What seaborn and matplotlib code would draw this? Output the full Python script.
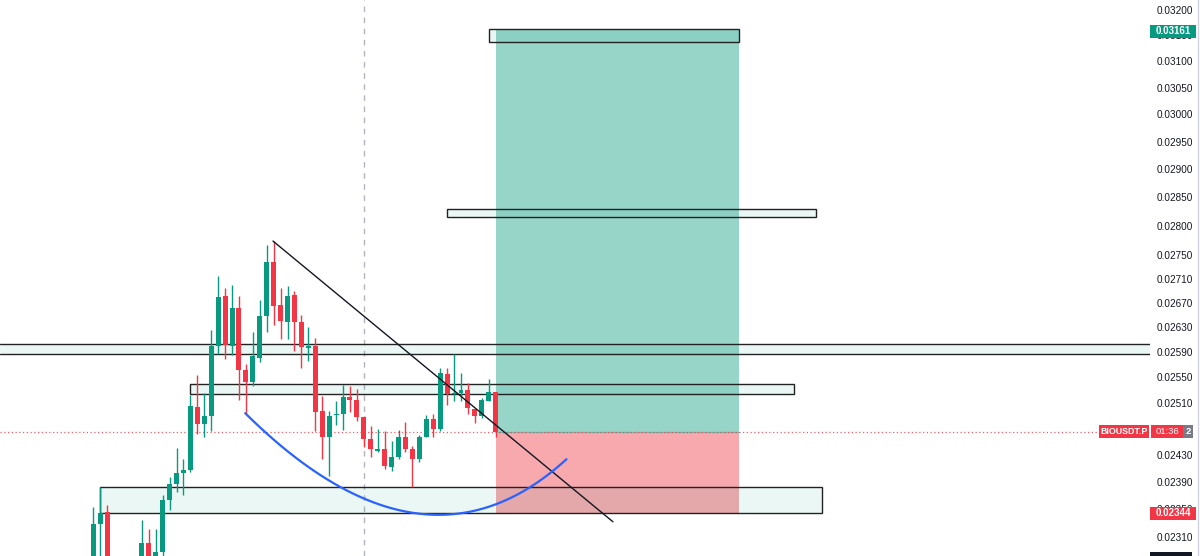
import numpy as np
import pandas as pd
import matplotlib
matplotlib.use("Agg")
import matplotlib.pyplot as plt
import seaborn as sns
from matplotlib.patches import Rectangle
from matplotlib.lines import Line2D
from matplotlib.ticker import NullLocator

# ---------------- data ----------------
opens = [0.02271, 0.02329, 0.02346, 0.02257, 0.02228, 0.02236, 0.02224, 0.02264, 0.02302, 0.02271,
         0.02289, 0.02363, 0.02387, 0.02403, 0.02408, 0.02504, 0.02478, 0.02490, 0.02600, 0.02681,
         0.02600, 0.02662, 0.02562, 0.02542, 0.02581, 0.02649, 0.02738, 0.02666, 0.02639, 0.02683,
         0.02639, 0.02596, 0.02600, 0.02497, 0.02457, 0.02491, 0.02493, 0.02519, 0.02515, 0.02488,
         0.02454, 0.02437, 0.02440, 0.02413, 0.02427, 0.02458, 0.02440, 0.02424, 0.02458, 0.02485,
         0.02469, 0.02555, 0.02524, 0.02525, 0.02530, 0.02500, 0.02489, 0.02513, 0.02527]
highs = [0.02354, 0.02383, 0.02356, 0.02268, 0.02250, 0.02262, 0.02270, 0.02335, 0.02322, 0.02322,
         0.02371, 0.02398, 0.02441, 0.02425, 0.02522, 0.02554, 0.02526, 0.02626, 0.02715, 0.02695,
         0.02699, 0.02681, 0.02571, 0.02623, 0.02675, 0.02767, 0.02774, 0.02695, 0.02698, 0.02690,
         0.02650, 0.02631, 0.02612, 0.02520, 0.02497, 0.02513, 0.02538, 0.02536, 0.02531, 0.02490,
         0.02474, 0.02469, 0.02467, 0.02452, 0.02468, 0.02481, 0.02444, 0.02461, 0.02491, 0.02493,
         0.02564, 0.02564, 0.02587, 0.02556, 0.02541, 0.02502, 0.02517, 0.02547, 0.02527]
lows = [0.02250, 0.02278, 0.02243, 0.02215, 0.02205, 0.02220, 0.02218, 0.02257, 0.02261, 0.02264,
        0.02283, 0.02349, 0.02376, 0.02371, 0.02405, 0.02462, 0.02457, 0.02466, 0.02587, 0.02579,
        0.02585, 0.02514, 0.02493, 0.02537, 0.02574, 0.02623, 0.02634, 0.02611, 0.02611, 0.02591,
        0.02564, 0.02575, 0.02467, 0.02425, 0.02399, 0.02476, 0.02468, 0.02496, 0.02482, 0.02443,
        0.02427, 0.02435, 0.02409, 0.02407, 0.02425, 0.02435, 0.02383, 0.02420, 0.02457, 0.02458,
        0.02467, 0.02507, 0.02513, 0.02513, 0.02493, 0.02479, 0.02487, 0.02513, 0.02458]
closes = [0.02329, 0.02345, 0.02257, 0.02228, 0.02236, 0.02224, 0.02262, 0.02302, 0.02271, 0.02289,
          0.02364, 0.02387, 0.02404, 0.02408, 0.02505, 0.02478, 0.02490, 0.02600, 0.02680, 0.02601,
          0.02662, 0.02561, 0.02543, 0.02583, 0.02649, 0.02738, 0.02665, 0.02641, 0.02682, 0.02639,
          0.02598, 0.02599, 0.02496, 0.02457, 0.02490, 0.02493, 0.02519, 0.02514, 0.02488, 0.02454,
          0.02439, 0.02439, 0.02414, 0.02427, 0.02458, 0.02439, 0.02424, 0.02458, 0.02485, 0.02469,
          0.02556, 0.02523, 0.02525, 0.02530, 0.02502, 0.02489, 0.02514, 0.02527, 0.02465]

y_ticks = [0.03200, 0.03150, 0.03100, 0.03050, 0.03000, 0.02950, 0.02900, 0.02850, 0.02800,
           0.02750, 0.02710, 0.02670, 0.02630, 0.02590, 0.02550, 0.02510, 0.02430,
           0.02390, 0.02350, 0.02310]

# drawings (bar index, price)
entry_price = 0.02465
take_profit = 0.03161
stop_loss = 0.02344
position_span = (58, 93.0)
boxes = [  # (x0, x1, low, high)
    (57.0, 93.0, 0.03138, 0.03163),
    (51.0, 104.1, 0.02815, 0.02830),
    (13.9, 101.0, 0.02524, 0.02539),
    (1.0, 105.0, 0.02345, 0.02383),
]
wide_zone = (0.02587, 0.02603)
trend_x = [25.9, 74.9]
trend_y = [0.02774, 0.02332]
arc_x = [21.9, 47.6, 68.2]          # start, control, end
arc_y = [0.02494, 0.022357, 0.02424]
vline_bar = 39
symbol = "BIOUSDT.P"
countdown = "01:36"
last_price_tail = "2"

GREEN = "#089981"
RED = "#F23645"

# ---------------- figure ----------------
sns.set_theme(style="white")
plt.rcParams['font.family'] = ['Liberation Sans', 'DejaVu Sans']

W, H = 1200, 556
fig = plt.figure(figsize=(W / 100, H / 100), dpi=100)
fig.patch.set_facecolor("white")
ax = fig.add_axes([0, 0, 1150 / W, 1])
ax.set_facecolor("white")
ax.set_yscale("log")
ax.set_ylim(0.022832, 0.032198)
ax.set_xlim(-13.44, 152.3)

df = pd.DataFrame({"open": opens, "high": highs, "low": lows, "close": closes})
df["idx"] = np.arange(len(df))
df["up"] = df["close"] >= df["open"]
colors = np.where(df["up"], GREEN, RED)

# position tool
px0, px1 = position_span
ax.add_patch(Rectangle((px0, entry_price), px1 - px0, take_profit - entry_price,
                       facecolor="#98D5C9", edgecolor="none", zorder=1))
ax.add_patch(Rectangle((px0, stop_loss), px1 - px0, entry_price - stop_loss,
                       facecolor="#F7A9AE", edgecolor="none", zorder=1))
ax.plot([px0, px1], [entry_price, entry_price], color="#7fb5a9", lw=0.9, zorder=1.2)

# zones
ax.axhspan(wide_zone[0], wide_zone[1], facecolor=GREEN, alpha=0.08, edgecolor="none", zorder=2)
for yv in wide_zone:
    ax.axhline(yv, color="#222222", lw=1.0, zorder=2.1)
for (x0, x1, lo, hi) in boxes:
    ax.add_patch(Rectangle((x0, lo), x1 - x0, hi - lo, facecolor=(8/255, 153/255, 129/255, 0.08),
                           edgecolor="#222222", lw=1.0, zorder=2.1))

# last price dotted line and vertical dashed line
ax.axhline(closes[-1], color=RED, lw=0.9, ls=(0, (1, 2)), alpha=0.8, zorder=1.5)
ax.axvline(vline_bar, color="#B2B5BE", lw=1.0, ls=(0, (4, 4)), zorder=1.5)

# candles
ax.vlines(df["idx"], df["low"], df["high"], colors=colors, lw=1.0, zorder=3)
body_lo = np.minimum(df["open"], df["close"])
body_h = np.maximum(np.abs(df["close"] - df["open"]), 0.000015)
ax.bar(df["idx"], body_h, bottom=body_lo, width=0.72, color=colors, edgecolor="none", zorder=3.1)

# trend line
sns.lineplot(x=trend_x, y=trend_y, ax=ax, color="#131722", lw=1.0, zorder=4, sort=False)

# arc (quadratic bezier through control points in bar/log-price space)
t = np.linspace(0, 1, 120)
lx = np.log(arc_y)
bx = (1 - t) ** 2 * arc_x[0] + 2 * t * (1 - t) * arc_x[1] + t ** 2 * arc_x[2]
by = np.exp((1 - t) ** 2 * lx[0] + 2 * t * (1 - t) * lx[1] + t ** 2 * lx[2])
sns.lineplot(x=bx, y=by, ax=ax, color="#2962FF", lw=1.6, zorder=4, sort=False)

# axes styling
for s in ax.spines.values():
    s.set_visible(False)
ax.set_xticks([])
ax.yaxis.tick_right()
ax.set_yticks(y_ticks)
ax.set_yticklabels([f"{v:.5f}" for v in y_ticks])
ax.yaxis.set_minor_locator(NullLocator())
ax.tick_params(axis="y", length=0, pad=5, labelsize=7.2, labelcolor="#131722")
ax.grid(False)
ax.set_xlabel("")
ax.set_ylabel("")


# price-scale labels (figure pixel coordinates)
def px_label(x0, x1, y0, y1, text, fc, ha="center", z=5, tx=None, fs=7.0, fw="bold"):
    fig.add_artist(Rectangle((x0 / W, 1 - y1 / H), (x1 - x0) / W, (y1 - y0) / H,
                             transform=fig.transFigure, facecolor=fc, edgecolor="none", zorder=z))
    if tx is None:
        tx = (x0 + x1) / 2
    fig.text(tx / W, 1 - (y0 + y1) / 2 / H, text, ha=ha, va="center", color="white",
             fontsize=fs, fontweight=fw, zorder=z + 0.1)


px_label(1150, 1196, 25, 38, f"{take_profit:.5f}", GREEN)
px_label(1150, 1196, 507, 520, f"{stop_loss:.5f}", RED)
px_label(1183, 1193, 425, 438, last_price_tail, "#787B86", ha="center", z=5, fs=6.8)
px_label(1151, 1183, 425, 438, countdown, RED, z=6, fs=6.8, fw="normal")
px_label(1099, 1149, 425, 438, symbol, RED, z=6, fs=6.4)

fig.add_artist(Line2D([1198 / W, 1198 / W], [0, 1], transform=fig.transFigure, color="#D1D4DC", lw=1))
fig.add_artist(Rectangle((1150 / W, 0), 42 / W, 4 / H, transform=fig.transFigure,
                         facecolor="#131722", edgecolor="none", zorder=5))

fig.savefig("out.png", dpi=100)
